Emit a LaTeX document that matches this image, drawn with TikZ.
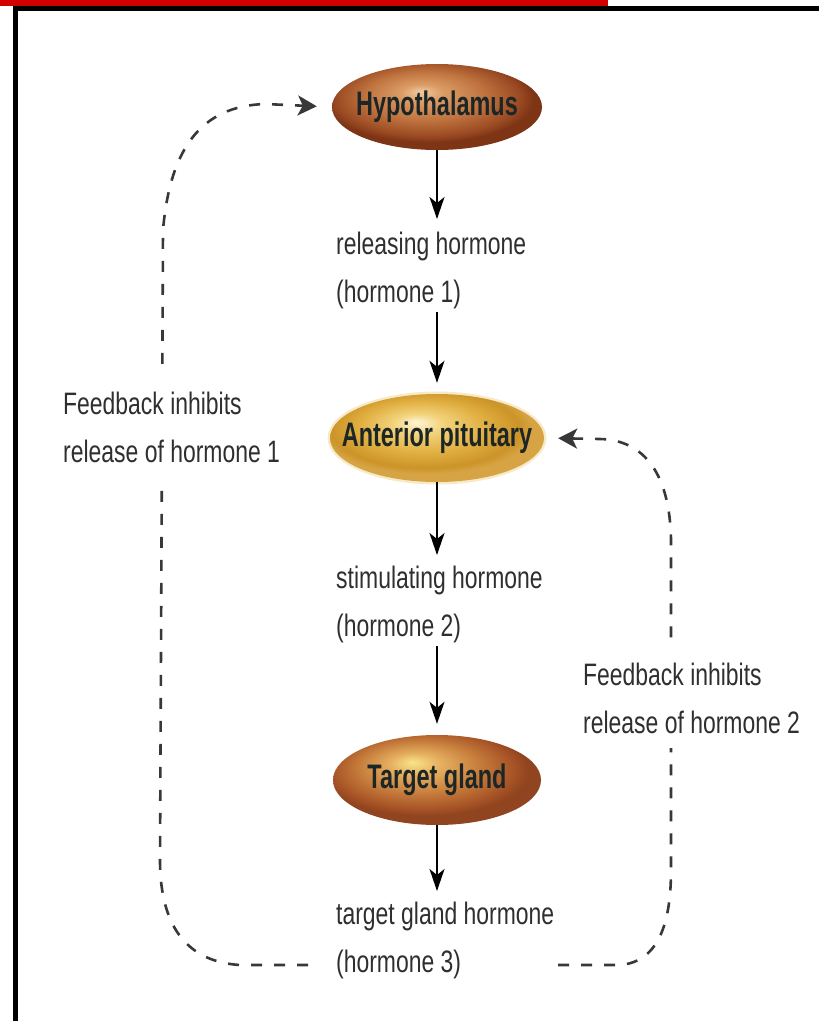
\documentclass[tikz,border=0pt]{standalone}
\usepackage{fontspec}
\setmainfont{Liberation Sans}[FakeStretch=0.74]
\newfontfamily\ellfont{Liberation Sans}[FakeStretch=0.69]
\usetikzlibrary{shapes.geometric,arrows.meta}

\definecolor{txt}{HTML}{2F2F2F}
\definecolor{etxt}{HTML}{1C2626}
\definecolor{dashc}{HTML}{383838}
\definecolor{framered}{HTML}{D40000}
% hypothalamus
\definecolor{hyA}{HTML}{F0CBA2}
\definecolor{hyB}{HTML}{DC9C66}
\definecolor{hyC}{HTML}{C0743F}
\definecolor{hyD}{HTML}{9A4A22}
\definecolor{hyE}{HTML}{7E3516}
% anterior pituitary
\definecolor{apA}{HTML}{FFF6D8}
\definecolor{apB}{HTML}{F2D27A}
\definecolor{apC}{HTML}{E0AE40}
\definecolor{apD}{HTML}{CC9428}
\definecolor{apE}{HTML}{D6A444}
\definecolor{apG}{HTML}{F0D590}
% target gland
\definecolor{tgA}{HTML}{F8E48A}
\definecolor{tgB}{HTML}{E6B060}
\definecolor{tgC}{HTML}{C47A3A}
\definecolor{tgD}{HTML}{A65226}
\definecolor{tgE}{HTML}{90441F}

\pgfdeclareradialshading{hyposhade}{\pgfpoint{-4bp}{9bp}}{color(0bp)=(hyA); color(5bp)=(hyB); color(14bp)=(hyC); color(22bp)=(hyD); color(25bp)=(hyE); color(50bp)=(hyE)}
\pgfdeclareradialshading{antshade}{\pgfpoint{-5bp}{9bp}}{color(0bp)=(apA); color(6bp)=(apB); color(15bp)=(apC); color(22bp)=(apD); color(25bp)=(apE); color(50bp)=(apE)}
\pgfdeclareradialshading{tgtshade}{\pgfpoint{-6bp}{10bp}}{color(0bp)=(tgA); color(6bp)=(tgB); color(15bp)=(tgC); color(22bp)=(tgD); color(25bp)=(tgE); color(50bp)=(tgE)}

\tikzset{
  organ/.style={ellipse, inner sep=0pt},
  organtext/.style={inner sep=0pt, text=etxt,
    font=\ellfont\bfseries\fontsize{34}{40}\selectfont},
  lbl/.style={anchor=north west, align=left, inner sep=0pt, text=txt,
    font=\fontsize{31}{48}\selectfont},
  fblbl/.style={lbl, fill=white, inner xsep=2pt},
  arr/.style={draw=black, line width=2pt,
    -{Stealth[length=22pt,width=15pt,inset=6pt]}},
  fb/.style={draw=dashc, line width=2.6pt, dash pattern=on 11pt off 12pt,
    -{Stealth[length=19pt,width=20pt,inset=5pt]}},
}

\begin{document}
\begin{tikzpicture}[x=1pt,y=-1pt]
\useasboundingbox (0,0) rectangle (819,1021);
% frame
\fill[framered] (0,0) rectangle (608,5.5);
\fill[black] (13,6) rectangle (819,11);
\fill[black] (13,6) rectangle (17.5,1021);

% soft glow round the pituitary
\fill[apG, opacity=0.5] (437,438) ellipse [x radius=109.5, y radius=46.5];

% organ nodes
\node[organ, shading=hyposhade, minimum width=210pt, minimum height=86pt] (hypo) at (437,107) {};
\node[organ, shading=antshade, minimum width=214pt, minimum height=88pt] (ant) at (437,438) {};
\node[organ, shading=tgtshade, minimum width=208pt, minimum height=90pt] (tgt) at (437,780) {};
\node[organtext] (hypotext) at (hypo) {Hypothalamus};
\node[organtext] (anttext) at (ant) {Anterior pituitary};
\node[organtext] (tgttext) at (tgt) {Target gland};

% hormone labels
\node[lbl] (rel) at (336,232) {releasing hormone\\(hormone 1)};
\node[lbl] (stim) at (336,566) {stimulating hormone\\(hormone 2)};
\node[lbl] (tgh) at (336,902) {target gland hormone\\(hormone 3)};

% main arrows
\draw[arr] (hypo.south) -- ([yshift=13pt]hypo.south |- rel.north);
\draw[arr] ([yshift=-3pt]hypo.south |- rel.south) -- ([yshift=11pt]ant.north);
\draw[arr] (ant.south) -- ([yshift=11pt]ant.south |- stim.north);
\draw[arr] ([yshift=-3pt]ant.south |- stim.south) -- ([yshift=11pt]tgt.north);
\draw[arr] (tgt.south) -- ([yshift=11pt]tgt.south |- tgh.north);

% feedback loops
\coordinate (L0) at (308,965);
\coordinate (R0) at (558,965);
\draw[fb, shorten >=15pt] (L0) -- (240,965)
  .. controls (190,962) and (160,930) .. (160,860)
  -- (163,230)
  .. controls (170,150) and (200,106) .. (265,104)
  -- (hypo.west);
\draw[fb, shorten >=14pt] (R0) -- (620,965)
  .. controls (655,962) and (671,930) .. (671,870)
  -- (671,540)
  .. controls (670,475) and (645,440) .. (600,439)
  -- (ant.east);

% feedback labels
\node[fblbl, inner ysep=18pt] (fb1) at (61,374) {Feedback inhibits\\release of hormone 1};
\node[fblbl, inner ysep=14pt] (fb2) at (581,649) {Feedback inhibits\\release of hormone 2};
\end{tikzpicture}
\end{document}
